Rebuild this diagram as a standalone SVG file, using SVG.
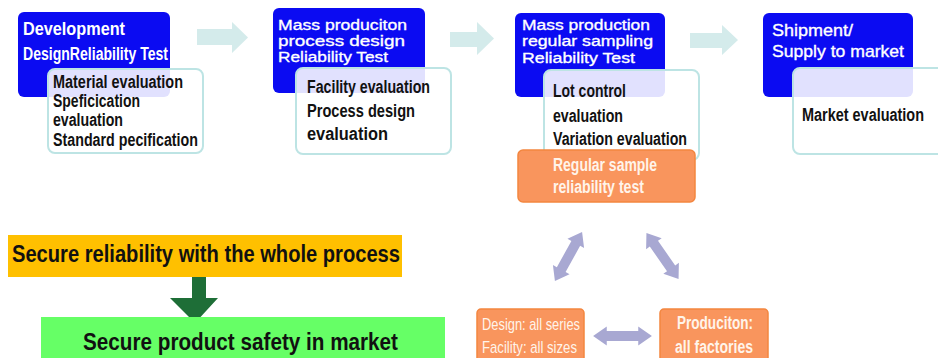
<svg xmlns="http://www.w3.org/2000/svg" xmlns:xlink="http://www.w3.org/1999/xlink" width="938" height="358" viewBox="0 0 938 358">
<style>
text{font-family:"Liberation Sans",Arial,sans-serif;font-weight:bold}
.blue{fill:#0b0bf2}
.wbox{fill:#ffffff;fill-opacity:0.88;stroke:#bde4e4;stroke-width:2}
.wt{fill:#ffffff;font-size:18px}
.wn{fill:#ffffff;font-size:15.5px;font-weight:normal;stroke:#ffffff;stroke-width:0.35}
.bt{fill:#111111;font-size:17.5px}
.org{fill:#f9955d;stroke:#f3863f;stroke-width:1.5}
.ot{fill:#fff4ea;font-size:18px}
.on{fill:#fff4ea;font-size:17px;font-weight:normal}
.flow{fill:#d4ebeb}
.dbl{fill:#a8a8d2}
</style>
<defs>
<path id="dbl" d="M-28,0 L-15,-9.5 L-15,-5 L15,-5 L15,-9.5 L28,0 L15,9.5 L15,5 L-15,5 L-15,9.5 Z"/>
</defs>
<rect width="938" height="358" fill="#ffffff"/>

<g id="connectors">
<path class="flow" d="M197,29 L232,29 L232,22 L248,37.5 L232,53 L232,45 L197,45 Z"/>
<path class="flow" d="M450,32 L477,32 L477,22 L494,38.5 L477,55 L477,47 L450,47 Z"/>
<path class="flow" d="M690,33 L722,33 L722,25 L738,40 L722,55 L722,48 L690,48 Z"/>
<path fill="#1e6e37" d="M192,277 L206,277 L206,298 L218,298 L195,323 L170,298 L192,298 Z"/>
<use xlink:href="#dbl" href="#dbl" class="dbl" transform="translate(568.5,256.5) rotate(-61)"/>
<use xlink:href="#dbl" href="#dbl" class="dbl" transform="translate(662.5,256) rotate(55)"/>
<use xlink:href="#dbl" href="#dbl" class="dbl" transform="translate(622.5,336) scale(1.05,1)"/>
</g>

<g id="stage1">
<rect class="blue" x="18" y="12" width="152" height="85" rx="6"/>
<text class="wt" x="23" y="35" textLength="102" lengthAdjust="spacingAndGlyphs">Development</text>
<text class="wt" x="23" y="60" textLength="145" lengthAdjust="spacingAndGlyphs">DesignReliability Test</text>
</g>
<g id="stage1-eval">
<rect class="wbox" x="48" y="69" width="155" height="84" rx="7"/>
<text class="bt" x="53" y="88" textLength="130" lengthAdjust="spacingAndGlyphs">Material evaluation</text>
<text class="bt" x="53" y="107" textLength="87" lengthAdjust="spacingAndGlyphs">Speficication</text>
<text class="bt" x="53" y="126" textLength="70" lengthAdjust="spacingAndGlyphs">evaluation</text>
<text class="bt" x="53" y="146" textLength="145" lengthAdjust="spacingAndGlyphs">Standard pecification</text>
</g>

<g id="stage2">
<rect class="blue" x="273" y="8" width="152" height="85" rx="6"/>
<text class="wn" x="278" y="30" textLength="129" lengthAdjust="spacingAndGlyphs">Mass produciton</text>
<text class="wn" x="278" y="46" textLength="127" lengthAdjust="spacingAndGlyphs">process design</text>
<text class="wn" x="278" y="62" textLength="110" lengthAdjust="spacingAndGlyphs">Reliability Test</text>
</g>
<g id="stage2-eval">
<rect class="wbox" x="296" y="68" width="155" height="86" rx="7"/>
<text class="bt" x="307" y="93" textLength="123" lengthAdjust="spacingAndGlyphs">Facility evaluation</text>
<text class="bt" x="307" y="117" textLength="108" lengthAdjust="spacingAndGlyphs">Process design</text>
<text class="bt" x="307" y="140" textLength="81" lengthAdjust="spacingAndGlyphs">evaluation</text>
</g>

<g id="stage3">
<rect class="blue" x="515" y="13" width="150" height="84" rx="6"/>
<text class="wn" x="522" y="30" textLength="128" lengthAdjust="spacingAndGlyphs">Mass production</text>
<text class="wn" x="522" y="46" textLength="131" lengthAdjust="spacingAndGlyphs">regular sampling</text>
<text class="wn" x="522" y="63" textLength="113" lengthAdjust="spacingAndGlyphs">Reliability Test</text>
</g>
<g id="stage3-eval">
<rect class="wbox" x="544" y="70" width="155" height="90" rx="7"/>
<text class="bt" x="553" y="97" textLength="73" lengthAdjust="spacingAndGlyphs">Lot control</text>
<text class="bt" x="553" y="122" textLength="70" lengthAdjust="spacingAndGlyphs">evaluation</text>
<text class="bt" x="553" y="145" textLength="134" lengthAdjust="spacingAndGlyphs">Variation evaluation</text>
</g>
<g id="regular-sample">
<rect class="org" x="518" y="150" width="177" height="52" rx="5"/>
<text class="ot" x="553" y="171" textLength="104" lengthAdjust="spacingAndGlyphs">Regular sample</text>
<text class="ot" x="553" y="193" textLength="91" lengthAdjust="spacingAndGlyphs">reliability test</text>
</g>

<g id="stage4">
<rect class="blue" x="763" y="13" width="150" height="84" rx="6"/>
<text class="wn" x="772" y="36" textLength="81" lengthAdjust="spacingAndGlyphs" style="font-size:17px">Shipment/</text>
<text class="wn" x="772" y="57" textLength="132" lengthAdjust="spacingAndGlyphs" style="font-size:17px">Supply to market</text>
</g>
<g id="stage4-eval">
<rect class="wbox" x="793" y="68" width="160" height="86" rx="7"/>
<text class="bt" x="802" y="121" textLength="122" lengthAdjust="spacingAndGlyphs">Market evaluation</text>
</g>

<g id="whole-process">
<rect x="8" y="235" width="394" height="42" fill="#ffc000"/>
<text x="12" y="262" font-size="23" fill="#111" textLength="388" lengthAdjust="spacingAndGlyphs">Secure reliability with the whole process</text>
</g>
<g id="product-safety">
<rect x="41" y="317" width="404" height="45" fill="#66ff66"/>
<text x="83" y="350" font-size="23" fill="#111" textLength="315" lengthAdjust="spacingAndGlyphs">Secure product safety in market</text>
</g>

<g id="design-facility">
<rect class="org" x="477" y="309" width="107" height="55" rx="4"/>
<text class="on" x="482" y="330" textLength="98" lengthAdjust="spacingAndGlyphs">Design: all series</text>
<text class="on" x="482" y="353" textLength="95" lengthAdjust="spacingAndGlyphs">Facility: all sizes</text>
</g>
<g id="production">
<rect class="org" x="660" y="309" width="108" height="55" rx="4"/>
<text class="ot" x="677" y="329" textLength="76" lengthAdjust="spacingAndGlyphs">Produciton:</text>
<text class="ot" x="675" y="353" textLength="78" lengthAdjust="spacingAndGlyphs">all factories</text>
</g>
</svg>
